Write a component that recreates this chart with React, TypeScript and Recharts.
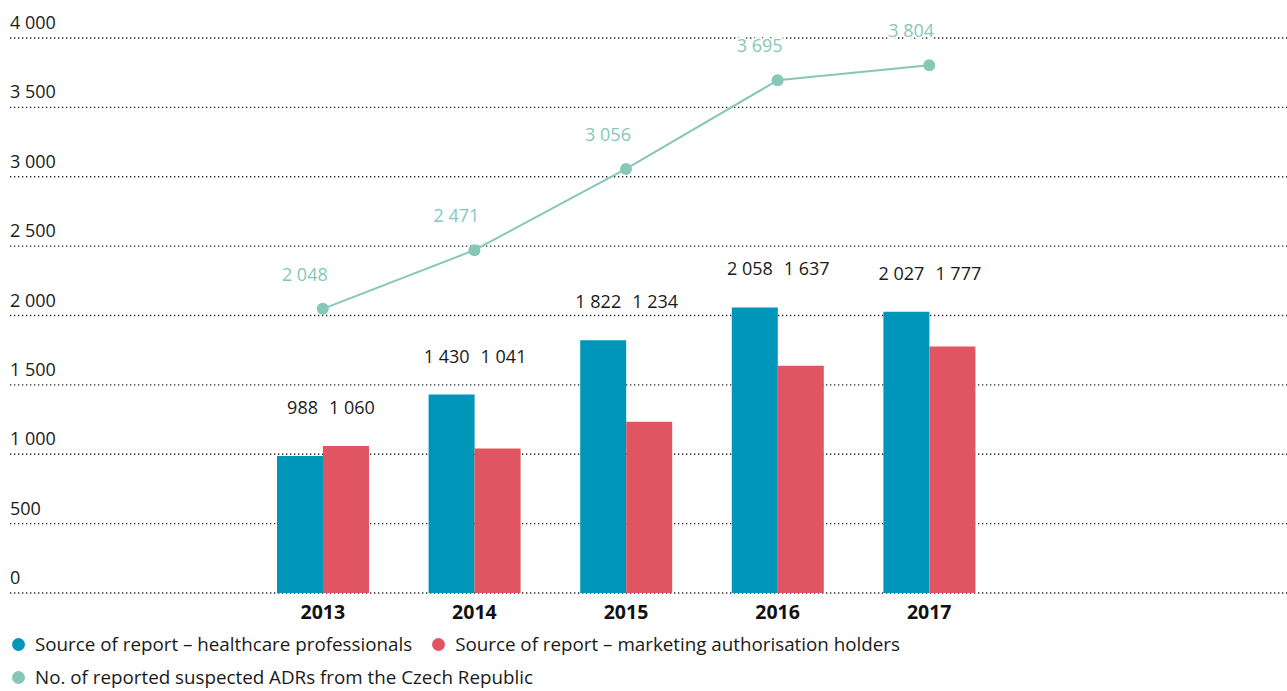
import { ComposedChart, Bar, Line, XAxis, YAxis, CartesianGrid, LabelList } from "recharts";

const years = ["2013", "2014", "2015", "2016", "2017"];
const healthcare = [988, 1430, 1822, 2058, 2027];
const holders = [1060, 1041, 1234, 1637, 1777];
const totals = [2048, 2471, 3056, 3695, 3804];
const yTicks = [0, 500, 1000, 1500, 2000, 2500, 3000, 3500, 4000];

const BLUE = "#0096b9";
const RED = "#e05561";
const TEAL = "#87c7b8";
const FONT = "'Open Sans', sans-serif";

const data = years.map((year, i) => ({
  year,
  healthcare: healthcare[i],
  holders: holders[i],
  total: totals[i],
}));

// space thousands like the source: 1 430
const fmt = (v: number) => String(v).replace(/\B(?=(\d{3})+(?!\d))/g, " ");

// both bar labels of a year sit on one line above the taller bar
function pairLabel(side: "left" | "right") {
  return (props: any) => {
    const { x, y, width, height, index, value } = props;
    const bottom = y + height;
    const ppu = height / value;
    const top = bottom - Math.max(healthcare[index], holders[index]) * ppu;
    return (
      <text
        x={side === "left" ? x + width - 5 : x + 6}
        y={top - 32}
        textAnchor={side === "left" ? "end" : "start"}
        fill="#1a1a1a"
        fontSize={18}
        fontFamily={FONT}
      >
        {fmt(value)}
      </text>
    );
  };
}

const YTick = (props: any) => {
  const { y, payload } = props;
  return (
    <text x={10} y={y - 9} fill="#1a1a1a" fontSize={18} fontFamily={FONT}>
      {fmt(payload.value)}
    </text>
  );
};

const XTick = (props: any) => {
  const { x, y, payload } = props;
  return (
    <text x={x} y={y + 18} textAnchor="middle" fill="#111" fontSize={19.5} fontWeight="bold" fontFamily={FONT}>
      {payload.value}
    </text>
  );
};

const LegendItem = ({ color, label }: { color: string; label: string }) => (
  <span style={{ display: "inline-flex", alignItems: "center", marginRight: 20 }}>
    <span style={{ width: 13, height: 13, borderRadius: 7, background: color, marginRight: 10 }} />
    {label}
  </span>
);

export default function App() {
  return (
    <div style={{ position: "absolute", left: 0, top: 0, width: 1287, height: 691, background: "#fff", overflow: "hidden" }}>
      <ComposedChart
        width={1287}
        height={691}
        data={data}
        margin={{ top: 38, right: 0, left: 0, bottom: 68 }}
        barGap={0}
      >
        <CartesianGrid vertical={false} stroke="#222" strokeDasharray="1.3 2.7" strokeWidth={1.3} />
        <XAxis
          dataKey="year"
          height={30}
          axisLine={false}
          tickLine={false}
          padding={{ left: 237, right: 282 }}
          tick={<XTick />}
          interval={0}
        />
        <YAxis
          domain={[0, 4000]}
          ticks={yTicks}
          width={10}
          axisLine={false}
          tickLine={false}
          tick={<YTick />}
        />
        <Bar dataKey="healthcare" fill={BLUE} barSize={46} isAnimationActive={false}>
          <LabelList dataKey="healthcare" content={pairLabel("left")} />
        </Bar>
        <Bar dataKey="holders" fill={RED} barSize={46} isAnimationActive={false}>
          <LabelList dataKey="holders" content={pairLabel("right")} />
        </Bar>
        <Line
          dataKey="total"
          stroke={TEAL}
          strokeWidth={2}
          dot={{ r: 6, fill: TEAL, stroke: "none" }}
          activeDot={false}
          isAnimationActive={false}
        >
          <LabelList
            dataKey="total"
            content={(p: any) => (
              <text
                x={p.x - 18}
                y={p.y - 28}
                textAnchor="middle"
                fill={TEAL}
                stroke="#fff"
                strokeWidth={4}
                paintOrder="stroke"
                fontSize={18}
                fontFamily={FONT}
              >
                {fmt(p.value)}
              </text>
            )}
          />
        </Line>
      </ComposedChart>
      <div
        style={{
          position: "absolute",
          left: 12,
          top: 628,
          fontFamily: FONT,
          fontSize: 18.8,
          color: "#1a1a1a",
          lineHeight: "33px",
          whiteSpace: "nowrap",
        }}
      >
        <div>
          <LegendItem color={BLUE} label="Source of report – healthcare professionals" />
          <LegendItem color={RED} label="Source of report – marketing authorisation holders" />
        </div>
        <div>
          <LegendItem color={TEAL} label="No. of reported suspected ADRs from the Czech Republic" />
        </div>
      </div>
    </div>
  );
}
